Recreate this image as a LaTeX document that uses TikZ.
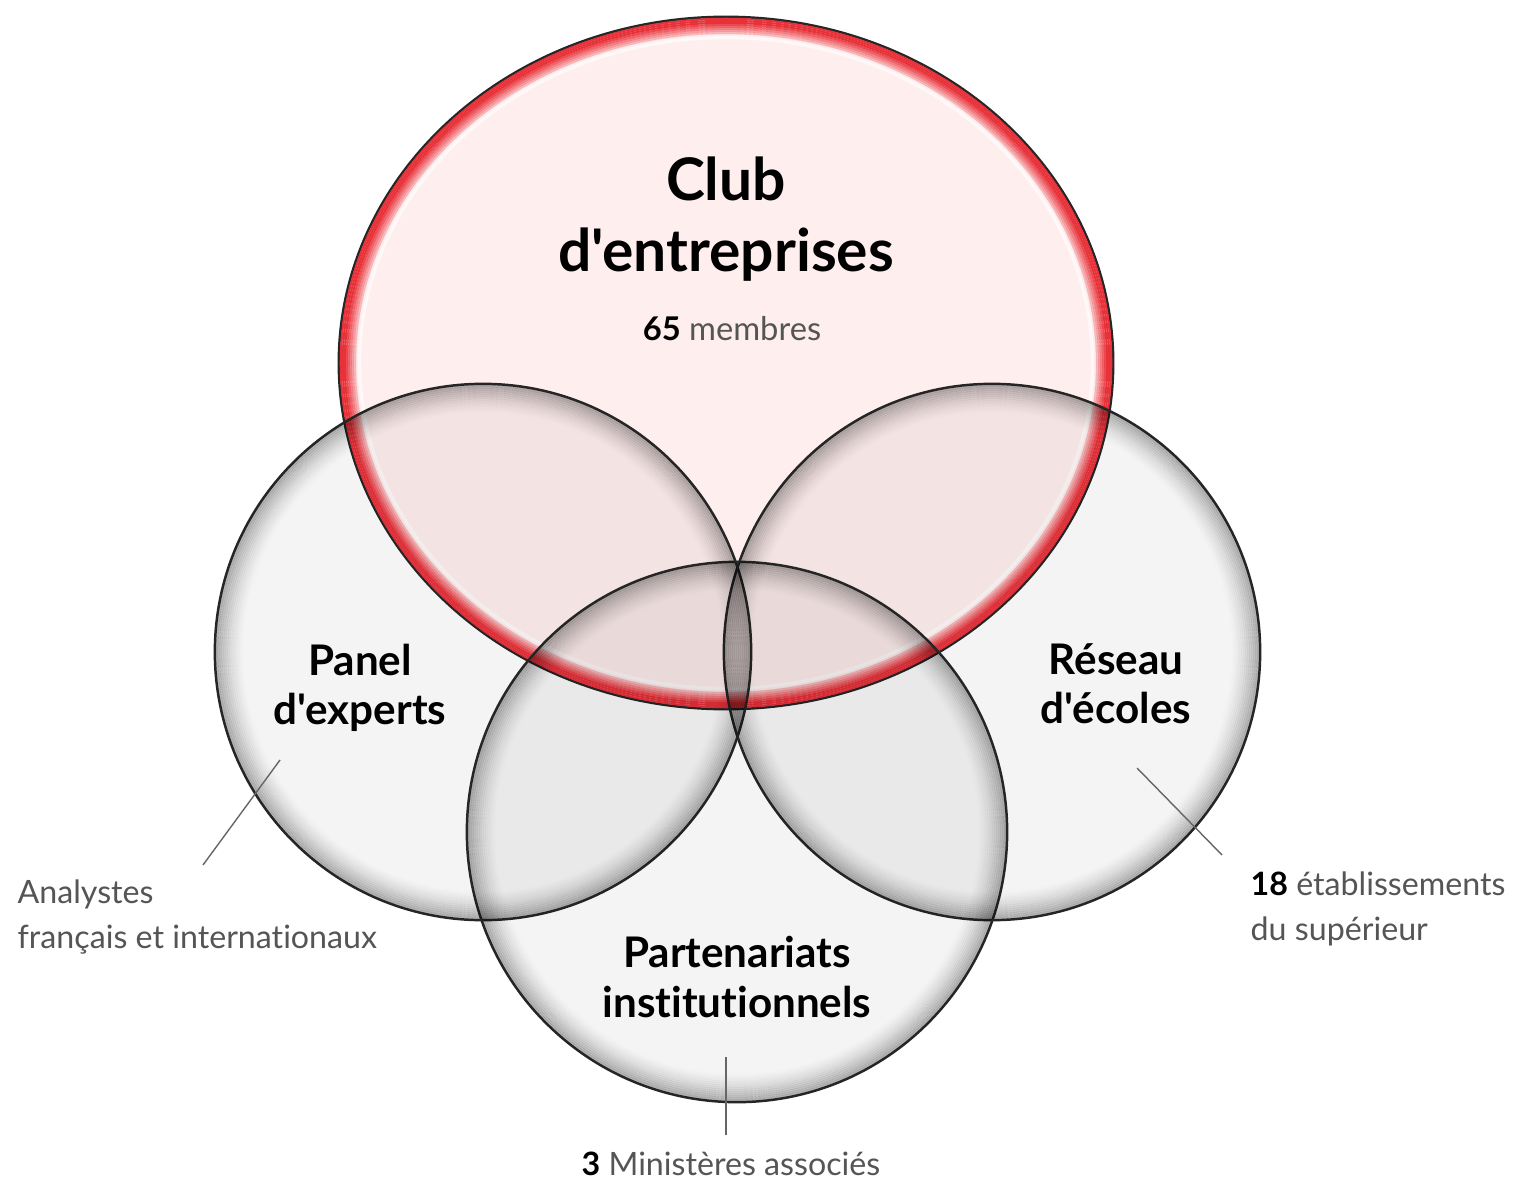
\documentclass[tikz,border=0pt]{standalone}
\usepackage{fontspec}
\setmainfont{Lato}[Ligatures={TeXOff,CommonOff}]
\usetikzlibrary{shapes.geometric, positioning}
\definecolor{rimred}{HTML}{E8323A}
\definecolor{notegray}{HTML}{555555}
\definecolor{leadgray}{HTML}{666666}

\begin{document}
\begin{tikzpicture}[x=0.01cm, y=-0.01cm,
    disc/.style={circle, draw=black!85, line width=0.7pt, fill=black, fill opacity=0.045, minimum size=#1, inner sep=0pt},
    clubdisc/.style={ellipse, draw=black!85, line width=0.7pt, fill=red, fill opacity=0.065, minimum width=7.74cm, minimum height=6.92cm, inner sep=0pt},
    title/.style={font=\bfseries\fontsize{12}{14}\selectfont, align=center},
    bigtitle/.style={font=\bfseries\fontsize{16.7}{20}\selectfont, align=center},
    note/.style={font=\fontsize{9.15}{12.8}\selectfont, color=notegray, inner sep=0pt, align=left},
    leader/.style={draw=leadgray, line width=0.4pt},
]
\fill[white] (0,0) rectangle (1527,1179);
\useasboundingbox (0,0) rectangle (1527,1179);

% Club: pink ellipse with red rim
\node[clubdisc] (club) at (726,363) {};
\foreach \i in {1,...,9} {
  \pgfmathsetmacro\op{min(1,1.3*(1-(\i-1)/9))}
  \pgfmathsetmacro\rx{3.87-\i*0.02}
  \pgfmathsetmacro\ry{3.46-\i*0.02}
  \draw[rimred, draw opacity=\op, line width=0.6pt] (club.center) ellipse[x radius=\rx cm, y radius=\ry cm];
}
\draw[white, draw opacity=0.6, line width=1.4pt] (club.center) ellipse[x radius=3.67cm, y radius=3.26cm];

% the three grey discs
\node[disc=5.36cm] (reseau) at (992,652) {};
\node[disc=5.36cm] (panel) at (483,652) {};
\node[disc=5.40cm] (parten) at (737,832) {};
\foreach \c/\r in {reseau/2.68, panel/2.68, parten/2.70} {
  \foreach \i in {1,...,14} {
    \pgfmathsetmacro\op{0.3*(1-\i/15)^1.5}
    \pgfmathsetmacro\rad{\r-\i*0.02}
    \draw[black, draw opacity=\op, line width=0.6pt] (\c.center) circle[radius=\rad cm];
  }
}

% titles
\node[bigtitle] (clubname) at (726,219) {Club\\d'entreprises};
\node[font=\fontsize{9.3}{10}\selectfont, color=notegray] (clubcount) at (732,329) {\textbf{\color{black}65} membres};
\node[title] (panelname) at (360,688) {Panel\\d'experts};
\node[title] (reseauname) at (1116,684) {Réseau\\d'écoles};
\node[title, font=\bfseries\fontsize{12}{14.2}\selectfont] (partenname) at (737,977) {Partenariats\\institutionnels};

% side notes and their leaders
\coordinate (panelpin) at (280,760);
\coordinate (panelend) at (203,865);
\coordinate (reseaupin) at (1137,768);
\coordinate (reseauend) at (1222,855);
\coordinate (partenpin) at (726,1057);
\coordinate (partenend) at (726,1135);
\draw[leader] (panelpin) -- (panelend);
\draw[leader] (reseaupin) -- (reseauend);
\draw[leader] (partenpin) -- (partenend);

\node[note, anchor=north west] (panelnote) at (17,879) {Analystes\\français et internationaux};
\node[note, anchor=north west] (reseaunote) at (1250,871) {\textbf{\color{black}18} établissements\\du supérieur};
\node[note, anchor=base] (partennote) at (731,1175) {\textbf{\color{black}3} Ministères associés};

\end{tikzpicture}
\end{document}
